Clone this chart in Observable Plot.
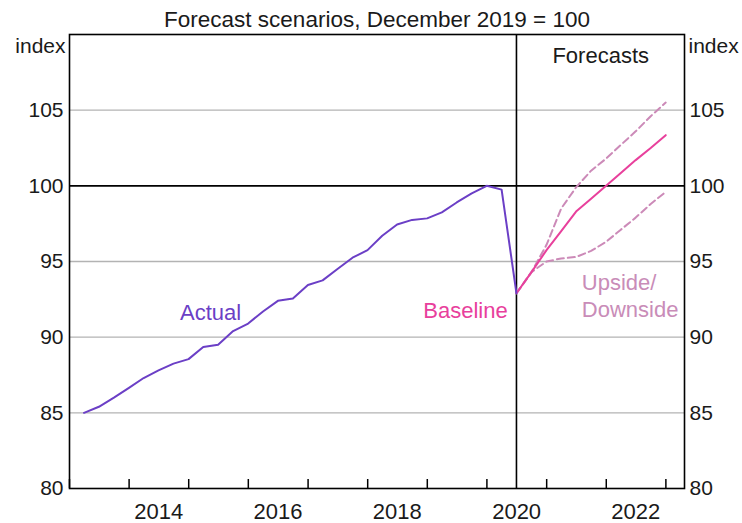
<!DOCTYPE html>
<html><head><meta charset="utf-8">
<script src="https://cdn.jsdelivr.net/npm/d3@7"></script>
<script src="https://cdn.jsdelivr.net/npm/@observablehq/plot@0.6"></script>
<style>
body{margin:0;background:#fff;}
svg{font-family:"Liberation Sans",Arial,sans-serif;}
</style>
</head><body><div id="chart"></div>
<script>
const title = "Forecast scenarios, December 2019 = 100";

const actualQuarters = [
  "2013-03-31","2013-06-30","2013-09-30","2013-12-31",
  "2014-03-31","2014-06-30","2014-09-30","2014-12-31",
  "2015-03-31","2015-06-30","2015-09-30","2015-12-31",
  "2016-03-31","2016-06-30","2016-09-30","2016-12-31",
  "2017-03-31","2017-06-30","2017-09-30","2017-12-31",
  "2018-03-31","2018-06-30","2018-09-30","2018-12-31",
  "2019-03-31","2019-06-30","2019-09-30","2019-12-31",
  "2020-03-31","2020-06-30"
];
const actualValues = [
  85.0, 85.4, 86.0, 86.65,
  87.3, 87.8, 88.25, 88.55,
  89.35, 89.5, 90.4, 90.9,
  91.7, 92.4, 92.55, 93.45,
  93.75, 94.5, 95.25, 95.75,
  96.7, 97.45, 97.75, 97.85,
  98.25, 98.9, 99.5, 100.0,
  99.75, 92.9
];

const forecastQuarters = [
  "2020-06-30","2020-09-30","2020-12-31",
  "2021-03-31","2021-06-30","2021-09-30","2021-12-31",
  "2022-03-31","2022-06-30","2022-09-30","2022-12-31"
];
const baselineValues = [92.9, 94.3, 95.75, 97.0, 98.3, 99.15, 100.0, 100.85, 101.7, 102.5, 103.35];
const upsideValues   = [92.9, 94.3, 96.1, 98.5, 99.9, 101.0, 101.8, 102.7, 103.6, 104.6, 105.5];
const downsideValues = [92.9, 94.3, 95.0, 95.2, 95.3, 95.7, 96.3, 97.1, 97.9, 98.8, 99.6];

const yTickValues = [80, 85, 90, 95, 100, 105];
const gridValues = [85, 90, 95, 105];
const referenceLevel = [100];
const forecastStart = ["2020-06-30"];
const yearStartTicks = ["2013","2014","2015","2016","2017","2018","2019","2020","2021","2022","2023"];
const yearLabels = ["2014","2016","2018","2020","2022"];
const xDomain = ["2013-01-01","2023-04-25"];

const annotationTexts   = ["Actual", "Baseline", "Upside/\nDownside", "Forecasts"];
const annotationDates   = ["2015-05-15", "2020-05-07", "2021-08-04", "2021-11-28"];
const annotationValues  = [91.7, 91.85, 92.8, 108.7];
const annotationColors  = ["#6b3fc6", "#e8409c", "#c98cb8", "#1a1a1a"];
const annotationAnchors = ["middle", "end", "start", "middle"];

const parse = d => new Date(d.length === 4 ? d + "-01-01T00:00:00Z" : d + "T00:00:00Z");
const actual = actualQuarters.map((d, i) => ({date: parse(d), value: actualValues[i]}));
const forecast = forecastQuarters.map((d, i) => ({
  date: parse(d), baseline: baselineValues[i], upside: upsideValues[i], downside: downsideValues[i]
}));
const annotations = annotationTexts.map((t, i) => ({
  text: t, date: parse(annotationDates[i]), value: annotationValues[i],
  color: annotationColors[i], anchor: annotationAnchors[i]
}));
const midYear = y => new Date(Date.UTC(+y, 6, 1));

const W = 742, H = 523, mT = 34, mB = 35, mL = 69, mR = 58;
const innerH = H - mT - mB;
const tickLen = 9;

const annotationMarks = ["start", "middle", "end"].map(anchor =>
  Plot.text(annotations.filter(a => a.anchor === anchor), {
    x: "date", y: "value", text: "text", fill: "color",
    textAnchor: anchor, lineHeight: 1.24, fontSize: 22
  })
);

const chart = Plot.plot({
  width: W, height: H,
  marginTop: mT, marginBottom: mB, marginLeft: mL, marginRight: mR,
  style: {fontFamily: "'Liberation Sans', Arial, sans-serif", fontSize: "21px", background: "#fff", color: "#1a1a1a", overflow: "visible"},
  x: {type: "utc", domain: xDomain.map(parse)},
  y: {domain: [80, 110]},
  marks: [
    Plot.ruleY(gridValues, {stroke: "#b3b3b3", strokeWidth: 1.3}),
    Plot.ruleY(referenceLevel, {stroke: "#000", strokeWidth: 1.6}),
    Plot.ruleX(forecastStart.map(parse), {stroke: "#000", strokeWidth: 1.6}),
    Plot.tickX(yearStartTicks.map(parse), {stroke: "#000", strokeWidth: 1.5, insetTop: innerH - tickLen}),
    Plot.line(forecast, {x: "date", y: "upside", stroke: "#cc8ab8", strokeWidth: 2, strokeDasharray: "7,4"}),
    Plot.line(forecast, {x: "date", y: "downside", stroke: "#cc8ab8", strokeWidth: 2, strokeDasharray: "7,4"}),
    Plot.line(forecast, {x: "date", y: "baseline", stroke: "#e8409c", strokeWidth: 2}),
    Plot.line(actual, {x: "date", y: "value", stroke: "#6b3fc6", strokeWidth: 2}),
    Plot.frame({stroke: "#000", strokeWidth: 1.6}),
    Plot.axisY(yTickValues, {anchor: "left", tickSize: 0, tickPadding: 6, label: null}),
    Plot.axisY(yTickValues, {anchor: "right", tickSize: 0, tickPadding: 5, label: null}),
    Plot.axisX(yearLabels.map(midYear), {anchor: "bottom", tickSize: 0, tickPadding: 15, label: null, fontSize: 22,
      tickFormat: d => String(d.getUTCFullYear())}),
    Plot.text(["index"], {frameAnchor: "top-left", lineAnchor: "middle", textAnchor: "end", dx: -4, dy: 12, fill: "#1a1a1a"}),
    Plot.text(["index"], {frameAnchor: "top-right", lineAnchor: "middle", textAnchor: "start", dx: 4, dy: 12, fill: "#1a1a1a"}),
    Plot.text([title], {frameAnchor: "top", lineAnchor: "middle", dy: -14.5, fill: "#1a1a1a", fontSize: 22.5}),
    ...annotationMarks
  ]
});
document.getElementById("chart").appendChild(chart);
</script>
</body></html>
